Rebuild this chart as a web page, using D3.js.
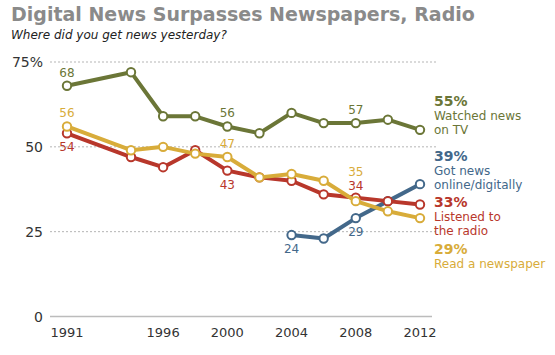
<!DOCTYPE html>
<html><head><meta charset="utf-8">
<script src="https://cdn.jsdelivr.net/npm/d3@7"></script>
<style>body{margin:0;background:#fff}svg{display:block}text{font-family:"DejaVu Sans",Verdana,sans-serif}</style>
</head><body>
<script>
const years = [1991, 1994, 1996, 1998, 2000, 2002, 2004, 2006, 2008, 2010, 2012];
const tv = [68, 72, 59, 59, 56, 54, 60, 57, 57, 58, 55];
const newspaper = [56, 49, 50, 48, 47, 41, 42, 40, 34, 31, 29];
const radio = [54, 47, 44, 49, 43, 41, 40, 36, 35, 34, 33];
const online = [null, null, null, null, null, null, 24, 23, 29, 34, 39];
const xTicks = [1991, 1996, 2000, 2004, 2008, 2012];
const yTicks = [0, 25, 50, 75];
const yTickLabels = ["0", "25", "50", "75%"];
const seriesNames = ["tv", "newspaper", "radio", "online"];
const seriesColors = {tv: "#6b7637", newspaper: "#d8ac3a", radio: "#b8372b", online: "#43688a"};
const legendPct = ["55%", "39%", "33%", "29%"];
const legendSeries = ["tv", "online", "radio", "newspaper"];
const legendLines = [["Watched news", "on TV"], ["Got news", "online/digitally"], ["Listened to", "the radio"], ["Read a newspaper"]];
// annotations: series, year, text, placement
const annotations = [
  ["tv", 1991, "68", "above"], ["newspaper", 1991, "56", "above"], ["radio", 1991, "54", "below"],
  ["tv", 2000, "56", "above"], ["newspaper", 2000, "47", "above"], ["radio", 2000, "43", "below"],
  ["tv", 2008, "57", "above"], ["newspaper", 2008, "35", "high"], ["radio", 2008, "34", "mid"],
  ["online", 2004, "24", "below"], ["online", 2008, "29", "below"]
];

const data = {tv, newspaper, radio, online};
const W = 555, H = 355;
const svg = d3.select("body").append("svg").attr("width", W).attr("height", H);

const x = d3.scaleLinear().domain([1991, 1994, 2012]).range([67, 131, 420]);
const y = d3.scaleLinear().domain([0, 75]).range([316.5, 62]);

svg.append("text").attr("x", 11).attr("y", 21).text("Digital News Surpasses Newspapers, Radio")
  .attr("font-size", 19).attr("font-weight", "bold").attr("fill", "#8a8a8a");
svg.append("text").attr("x", 11).attr("y", 38.5).text("Where did you get news yesterday?")
  .attr("font-size", 12).attr("font-style", "italic").attr("fill", "#222");

// grid
const yAxis = svg.append("g").selectAll("g").data(yTicks).join("g")
  .attr("transform", d => `translate(0,${y(d)})`);
yAxis.append("line").attr("x1", 50).attr("x2", d => d === 0 ? 432 : 436)
  .attr("stroke", d => d === 0 ? "#bcbcbc" : "#b5b5b5")
  .attr("stroke-width", d => d === 0 ? 1.5 : 1)
  .attr("stroke-dasharray", d => d === 0 ? null : "2,2");
yAxis.append("text").attr("x", 43).attr("y", 5).attr("text-anchor", "end")
  .attr("font-size", 14).attr("fill", "#333").text((d, i) => yTickLabels[i]);

svg.append("g").selectAll("text").data(xTicks).join("text")
  .attr("x", d => x(d)).attr("y", 337).attr("text-anchor", "middle")
  .attr("font-size", 13).attr("fill", "#333").text(d => d);

const line = d3.line().defined(d => d[1] != null).x(d => x(d[0])).y(d => y(d[1]));
const drawOrder = ["tv", "online", "radio", "newspaper"];
drawOrder.forEach(s => {
  const pts = years.map((yr, i) => [yr, data[s][i]]);
  svg.append("path").datum(pts).attr("d", line).attr("fill", "none")
    .attr("stroke", seriesColors[s]).attr("stroke-width", 4).attr("stroke-linejoin", "round");
  svg.append("g").selectAll("circle").data(pts.filter(d => d[1] != null)).join("circle")
    .attr("cx", d => x(d[0])).attr("cy", d => y(d[1])).attr("r", 4.2)
    .attr("fill", "#fff").attr("stroke", seriesColors[s]).attr("stroke-width", 2);
});

const offs = {above: -9, below: 18, high: -25, mid: -8};
svg.append("g").selectAll("text").data(annotations).join("text")
  .attr("x", d => x(d[1])).attr("y", d => y(data[d[0]][years.indexOf(d[1])]) + offs[d[3]])
  .attr("text-anchor", "middle").attr("font-size", 12)
  .attr("fill", d => seriesColors[d[0]]).text(d => d[2]);

const legendTop = [106, 161, 207, 254];
legendSeries.forEach((s, i) => {
  const g = svg.append("g").attr("fill", seriesColors[s]);
  g.append("text").attr("x", 434).attr("y", legendTop[i]).text(legendPct[i])
    .attr("font-family", "'DejaVu Serif',Georgia,serif").attr("font-weight", "bold").attr("font-size", 14);
  legendLines[i].forEach((t, j) => {
    g.append("text").attr("x", 434).attr("y", legendTop[i] + 14 + j * 13.5).text(t).attr("font-size", 12);
  });
});
</script>
</body></html>
